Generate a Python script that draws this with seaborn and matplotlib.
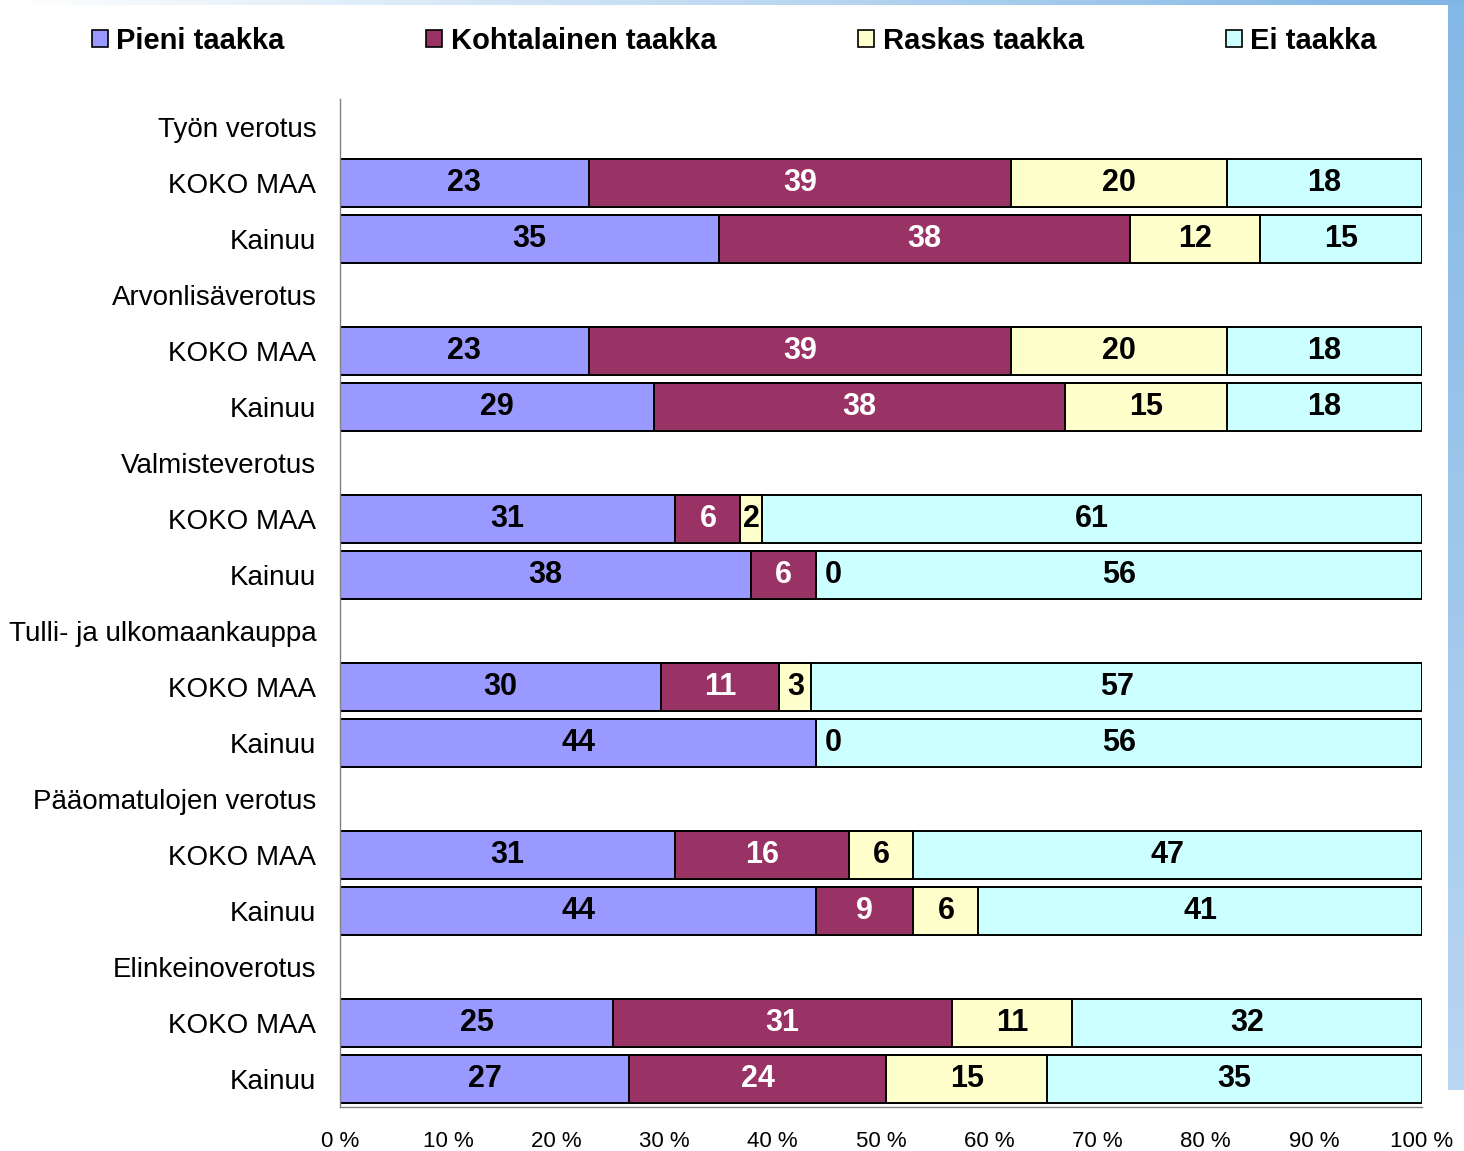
# Kuvaaja: verotuksen hallinnollinen taakka, KOKO MAA vs Kainuu
import numpy as np
import pandas as pd
import matplotlib.pyplot as plt
import seaborn as sns
from matplotlib.patches import Patch

# Data
groups = ["Työn verotus", "Arvonlisäverotus", "Valmisteverotus",
          "Tulli- ja ulkomaankauppa", "Pääomatulojen verotus", "Elinkeinoverotus"]
regions = ["KOKO MAA", "Kainuu"]
series = ["Pieni taakka", "Kohtalainen taakka", "Raskas taakka", "Ei taakka"]

pieni = [23, 35, 23, 29, 31, 38, 30, 44, 31, 44, 25, 27]
kohtalainen = [39, 38, 39, 38, 6, 6, 11, 0, 16, 9, 31, 24]
raskas = [20, 12, 20, 15, 2, 0, 3, 0, 6, 6, 11, 15]
ei = [18, 15, 18, 18, 61, 56, 57, 56, 47, 41, 32, 35]

colors = ["#9999FF", "#993366", "#FFFFCC", "#CCFFFF"]
label_colors = ["black", "white", "black", "black"]

sns.set_style("white")
plt.rcParams['font.family'] = ['Liberation Sans', 'DejaVu Sans']
plt.rcParams['text.color'] = 'black'

# Rivit: otsikkorivi + kaksi aluetta per ryhmä
rows = []
k = 0
for g in groups:
    rows.append({"key": g, "label": g})
    for r in regions:
        rows.append({"key": g + "|" + r, "label": r,
                     series[0]: pieni[k], series[1]: kohtalainen[k],
                     series[2]: raskas[k], series[3]: ei[k]})
        k += 1
df = pd.DataFrame(rows)
for s in series:
    df[s] = df[s].astype(float)

total = df[series].sum(axis=1, min_count=1)
for s in series:
    df["share_" + s] = df[s] / total * 100
cum = df[["share_" + s for s in series]].cumsum(axis=1)
for i, s in enumerate(series):
    df["cum_" + s] = cum.iloc[:, i]

order = list(df["key"])

fig = plt.figure(figsize=(14.64, 11.51), dpi=100)
ax = fig.add_axes([340 / 1464, 1 - 1107 / 1151, 1082 / 1464, 1008 / 1151])

# Pinotut palkit: piirretään kumulatiiviset summat takaperin päällekkäin
for i in reversed(range(len(series))):
    sns.barplot(data=df, x="cum_" + series[i], y="key", order=order, orient="h",
                color=colors[i], saturation=1, edgecolor="black", linewidth=1.4,
                width=0.86, errorbar=None, ax=ax)

# Arvot palkkeihin
for yi, row in df.iterrows():
    if np.isnan(row[series[0]]):
        continue
    left = 0
    for i, s in enumerate(series):
        share = row["share_" + s]
        val = int(row[s])
        if val == 0:
            ax.text(left + 0.8, yi, "0", ha="left", va="center", fontsize=22,
                    fontweight="bold", color=label_colors[i])
        else:
            ax.text(left + share / 2, yi, str(val), ha="center", va="center",
                    fontsize=22, fontweight="bold", color=label_colors[i])
        left += share

ax.set_xlim(0, 100)
ax.set_ylim(17.5, -0.5)
ax.set_xticks(range(0, 101, 10))
ax.set_xticklabels([f"{v} %" for v in range(0, 101, 10)], fontsize=16)
ax.set_yticks(range(len(order)))
ax.set_yticklabels(df["label"], fontsize=20)
ax.set_yticks(np.arange(-0.5, len(order), 1), minor=True)
ax.tick_params(axis="y", which="major", length=0, pad=17, labelcolor="black")
ax.tick_params(axis="y", which="minor", length=5, color="#808080", width=1, direction="out")
ax.tick_params(axis="x", length=5, color="#808080", width=1, direction="out", pad=12,
               labelcolor="black")
ax.set_xlabel("")
ax.set_ylabel("")
for sp in ["top", "right"]:
    ax.spines[sp].set_visible(False)
for sp in ["left", "bottom"]:
    ax.spines[sp].set_color("#808080")
    ax.spines[sp].set_linewidth(1)

# Selite
handles = [Patch(facecolor=c, edgecolor="black", linewidth=1.2) for c in colors]
fig.legend(handles, series, loc="center left", bbox_to_anchor=(80 / 1464, 1 - 41 / 1151),
           ncol=4, frameon=False, handlelength=0.55, handleheight=0.55,
           handletextpad=0.3, columnspacing=4.85, borderaxespad=0,
           prop={"size": 21, "weight": "bold"})

# Sininen reunus oikealla ja ylhäällä
grad_r = fig.add_axes([1448 / 1464, 1 - 1090 / 1151, 16 / 1464, 1090 / 1151])
grad_r.imshow(np.linspace(0, 1, 100).reshape(-1, 1), aspect="auto",
              cmap=sns.blend_palette(["#84b8e6", "#b9d6f2"], as_cmap=True))
grad_r.axis("off")
grad_t = fig.add_axes([0, 1 - 5 / 1151, 1, 5 / 1151])
grad_t.imshow(np.linspace(0, 1, 100).reshape(1, -1), aspect="auto",
              cmap=sns.blend_palette(["#ffffff", "#7fb5e5"], as_cmap=True))
grad_t.axis("off")

fig.savefig("out.png", dpi=100)
